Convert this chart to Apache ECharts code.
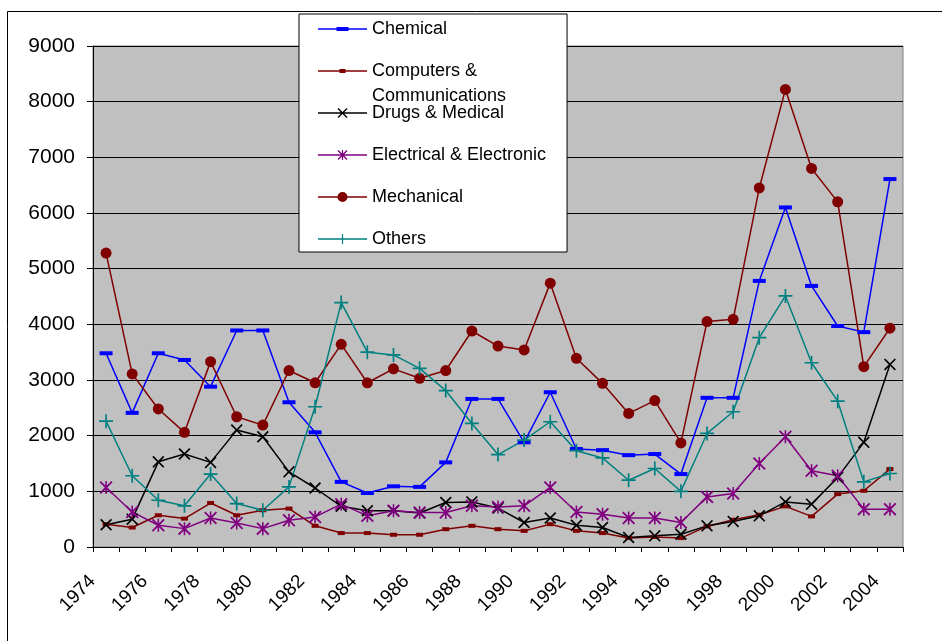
<!DOCTYPE html>
<html>
<head>
<meta charset="utf-8">
<script src="https://cdn.jsdelivr.net/npm/echarts@6/dist/echarts.min.js"></script>
<style>
  html, body { margin: 0; padding: 0; background: #fff; }
  #chart { width: 942px; height: 641px; }
</style>
</head>
<body>
<div id="chart"></div>
<script>
  // years on the x axis
  let years = ['1974', '1975', '1976', '1977', '1978', '1979', '1980', '1981', '1982', '1983',
    '1984', '1985', '1986', '1987', '1988', '1989', '1990', '1991', '1992', '1993',
    '1994', '1995', '1996', '1997', '1998', '1999', '2000', '2001', '2002', '2003', '2004']

  let chemical = [3480, 2410, 3480, 3360, 2880, 3890, 3890, 2600, 2060, 1170, 970, 1090, 1080, 1520, 2660, 2660,
    1880, 2780, 1760, 1740, 1650, 1670, 1310, 2680, 2680, 4780, 6100, 4690, 3970, 3860, 6610]
  let computers = [410, 350, 570, 510, 790, 570, 660, 690, 380, 250, 250, 220, 220, 320, 380, 320,
    290, 410, 290, 250, 160, 180, 160, 370, 490, 580, 730, 550, 950, 1010, 1400]
  let drugs = [400, 500, 1530, 1670, 1520, 2100, 1980, 1350, 1060, 730, 650, 650, 610, 800, 810, 700,
    440, 520, 390, 350, 170, 200, 230, 380, 460, 560, 810, 770, 1250, 1880, 3280]
  let electrical = [1070, 630, 390, 330, 520, 430, 330, 480, 540, 770, 560, 650, 620, 620, 740, 720,
    740, 1070, 630, 590, 520, 520, 440, 900, 960, 1500, 1980, 1370, 1280, 680, 680]
  let mechanical = [5280, 3110, 2480, 2060, 3330, 2340, 2190, 3170, 2950, 3640, 2950, 3200, 3030, 3170, 3880, 3610,
    3540, 4740, 3390, 2940, 2400, 2630, 1870, 4050, 4090, 6450, 8220, 6800, 6200, 3240, 3930]
  let others = [2260, 1280, 840, 740, 1310, 780, 660, 1080, 2520, 4390, 3500, 3450, 3210, 2810, 2220, 1660,
    1920, 2250, 1730, 1600, 1200, 1410, 1000, 2040, 2430, 3760, 4510, 3310, 2620, 1170, 1320]

  let font = "'Liberation Sans', Arial, sans-serif"

  // marker shapes (filled polygons, 10x10 box)
  let crossPts = 'M0,1L1,0L5,4L9,0L10,1L6,5L10,9L9,10L5,6L1,10L0,9L4,5Z'
  let barPts = 'M4.4,0L5.6,0L5.6,10L4.4,10Z'
  let plusPts = 'M4.4,0L5.6,0L5.6,4.4L10,4.4L10,5.6L5.6,5.6L5.6,10L4.4,10L4.4,5.6L0,5.6L0,4.4L4.4,4.4Z'

  // legend icons: a 49px line with the marker in the middle
  function shift(d, dx, dy) {
    return d.replace(/(-?[\d.]+),(-?[\d.]+)/g, function (m, a, b) {
      return (parseFloat(a) + dx) + ',' + (parseFloat(b) + dy)
    })
  }
  let legLine = 'M0,-0.75L49,-0.75L49,0.75L0,0.75Z '
  let legIcons = {
    'Chemical': 'path://' + legLine + 'M18.5,-2L30.5,-2L30.5,2L18.5,2Z',
    'Computers & Communications': 'path://' + legLine + 'M21.5,-2L27.5,-2L27.5,2L21.5,2Z',
    'Drugs & Medical': 'path://' + legLine + shift(crossPts, 19.5, -5),
    'Electrical & Electronic': 'path://' + legLine + shift(crossPts, 19.5, -5) + ' ' + shift(barPts, 19.5, -5),
    'Mechanical': 'path://' + legLine + 'M19.5,0A5,5 0 1 1 29.5,0A5,5 0 1 1 19.5,0Z',
    'Others': 'path://' + legLine + shift(plusPts, 19.5, -5)
  }

  function makeSeries(name, data, color, symbol, size) {
    return {
      name: name,
      type: 'line',
      data: data,
      symbol: symbol,
      symbolSize: size,
      showAllSymbol: true,
      lineStyle: { color: color, width: 1.5 },
      itemStyle: { color: color },
      emphasis: { disabled: true }
    }
  }

  let names = ['Chemical', 'Computers & Communications', 'Drugs & Medical',
    'Electrical & Electronic', 'Mechanical', 'Others']

  let chart = echarts.init(document.getElementById('chart'))
  chart.setOption({
    animation: false,
    textStyle: { fontFamily: font },
    graphic: [
      {
        type: 'rect',
        left: 5, top: 9,
        shape: { width: 1000, height: 1000 },
        style: { fill: 'none', stroke: '#000', lineWidth: 1 },
        z: -1
      },
      {
        // second line of the wrapped legend label
        type: 'text',
        z: 100,
        style: {
          text: 'Communications',
          x: 372, y: 96,
          verticalAlign: 'middle',
          font: "18px 'Liberation Sans', Arial, sans-serif",
          fill: '#000'
        }
      }
    ],
    legend: {
      orient: 'vertical',
      left: 299,
      top: 14,
      itemWidth: 49,
      itemHeight: 14,
      itemGap: 22,
      padding: [5, 21, 3, 19],
      backgroundColor: '#fff',
      borderColor: '#000',
      borderWidth: 1,
      symbolKeepAspect: true,
      formatter: function (name) {
        return name === 'Computers & Communications' ? 'Computers &' : name
      },
      textStyle: { fontSize: 18, color: '#000', fontFamily: font, lineHeight: 20 },
      data: names.map(function (n) { return { name: n, icon: legIcons[n] } })
    },
    grid: {
      left: 93, right: 39, top: 46, bottom: 94,
      show: true,
      backgroundColor: '#C0C0C0',
      borderColor: '#808080',
      borderWidth: 1
    },
    xAxis: {
      type: 'category',
      data: years,
      boundaryGap: true,
      axisLine: { lineStyle: { color: '#000', width: 1 } },
      axisTick: { show: true, interval: 0, length: 5, lineStyle: { color: '#000' } },
      axisLabel: {
        interval: 1,
        rotate: 45,
        margin: 18,
        padding: [0, 19, 0, 0],
        fontSize: 19,
        color: '#000',
        fontFamily: font
      },
      splitLine: { show: false }
    },
    yAxis: {
      type: 'value',
      min: 0,
      max: 9000,
      interval: 1000,
      axisLine: { show: true, lineStyle: { color: '#000', width: 1 } },
      axisTick: { show: true, length: 6, lineStyle: { color: '#000' } },
      axisLabel: {
        fontSize: 21, color: '#000', margin: 18, fontFamily: font,
        formatter: function (v) { return String(v) }
      },
      splitLine: { show: true, lineStyle: { color: '#000', width: 1 } }
    },
    series: [
      makeSeries('Chemical', chemical, '#0000FF', 'rect', [13, 4]),
      makeSeries('Computers & Communications', computers, '#800000', 'rect', [7, 4]),
      makeSeries('Drugs & Medical', drugs, '#000000', 'path://' + crossPts, 12),
      makeSeries('Electrical & Electronic', electrical, '#800080', 'path://' + crossPts + ' ' + barPts, 13),
      makeSeries('Mechanical', mechanical, '#800000', 'circle', 11),
      makeSeries('Others', others, '#008080', 'path://' + plusPts, 14)
    ]
  })
</script>
</body>
</html>
